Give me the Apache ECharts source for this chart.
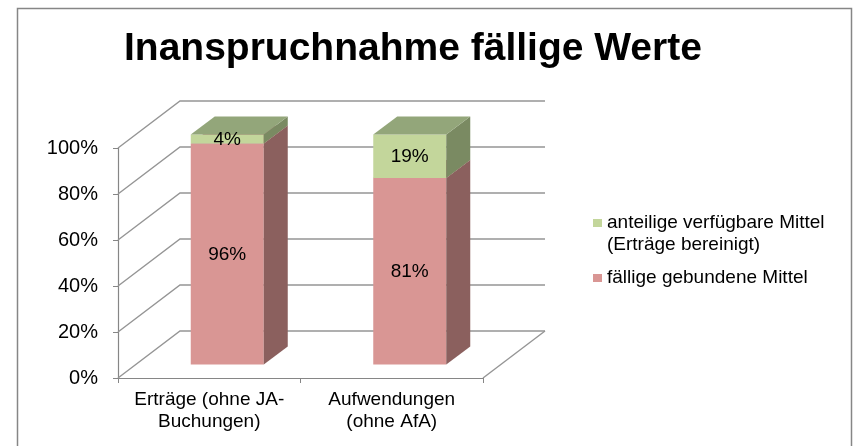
<!DOCTYPE html>
<html>
<head>
<meta charset="utf-8">
<script src="https://cdn.jsdelivr.net/npm/echarts@6/dist/echarts.min.js"></script>
<style>
  html, body { margin: 0; padding: 0; background: #fff; }
  #chart { width: 859px; height: 446px; }
</style>
</head>
<body>
<div id="chart"></div>
<script>
const categories = ['Erträge (ohne JA-\nBuchungen)', 'Aufwendungen\n(ohne AfA)'];
const boundValues = [96, 81];   // fällige gebundene Mittel
const availValues = [4, 19];    // anteilige verfügbare Mittel
const yTicks = [0, 20, 40, 60, 80, 100];
const seriesNames = ['anteilige verfügbare Mittel\n(Erträge bereinigt)', 'fällige gebundene Mittel'];

const FONT = '"Liberation Sans", Arial, sans-serif';
const GRID_COLOR = '#959595';
// 3D depth (pixels) of the walls and of the bars
const WALL_DX = 62, WALL_DY = -47;
const BAR_OX = 18, BAR_OY = -13.6;
const BAR_DX = 24, BAR_DY = -18;

const chart = echarts.init(document.getElementById('chart'));

// gridlines on side wall + back wall, plus floor edge
function renderWalls(params, api) {
  const cs = params.coordSys;
  const v = api.value(1);
  const y = api.coord([0, v])[1];
  const xl = cs.x, xr = cs.x + cs.width;
  const children = [{
    type: 'polyline',
    shape: { points: [[xl, y], [xl + WALL_DX, y + WALL_DY], [xr + WALL_DX, y + WALL_DY]] },
    style: { stroke: GRID_COLOR, lineWidth: 1.4, fill: null }
  }];
  if (v === 0) {
    children.push({
      type: 'line',
      shape: { x1: xr, y1: y, x2: xr + WALL_DX, y2: y + WALL_DY },
      style: { stroke: GRID_COLOR, lineWidth: 1.4 }
    });
  }
  return { type: 'group', children };
}

function barRenderer(front, side, top) {
  return function (params, api) {
    const i = api.value(0), start = api.value(1), end = api.value(2), val = api.value(3);
    const pb = api.coord([i, start]);
    const pt = api.coord([i, end]);
    const bw = api.size([1, 0])[0] * 0.4;
    const x0 = pb[0] - bw / 2 + BAR_OX, x1 = x0 + bw;
    const yb = pb[1] + BAR_OY, yt = pt[1] + BAR_OY;
    return {
      type: 'group',
      children: [
        { type: 'rect', shape: { x: x0, y: yt, width: bw, height: yb - yt }, style: { fill: front } },
        { type: 'polygon', shape: { points: [[x1, yb], [x1 + BAR_DX, yb + BAR_DY], [x1 + BAR_DX, yt + BAR_DY], [x1, yt]] }, style: { fill: side } },
        { type: 'polygon', shape: { points: [[x0, yt], [x1, yt], [x1 + BAR_DX, yt + BAR_DY], [x0 + BAR_DX, yt + BAR_DY]] }, style: { fill: top } },
        { type: 'text', style: { text: val + '%', x: (x0 + x1) / 2, y: (yt + yb) / 2 + 1, align: 'center', verticalAlign: 'middle', fill: '#000', font: '19px ' + FONT } }
      ]
    };
  };
}

const option = {
  animation: false,
  title: {
    text: 'Inanspruchnahme fällige Werte',
    left: 124,
    top: 30,
    padding: 0,
    textStyle: { fontSize: 39, fontWeight: 'bold', color: '#000', fontFamily: FONT, lineHeight: 39 }
  },
  legend: {
    orient: 'vertical',
    left: 593,
    top: 190,
    padding: 0,
    itemWidth: 9,
    itemHeight: 8,
    itemGap: 11,
    icon: 'rect',
    selectedMode: false,
    data: [seriesNames[0], seriesNames[1]],
    // leading empty line keeps the icon level with the first text line
    formatter: name => (name.indexOf('\n') >= 0 ? '\n' + name : name),
    textStyle: { color: '#000', fontSize: 19, lineHeight: 22, fontFamily: FONT }
  },
  grid: { left: 118, right: 376, top: 148, bottom: 68 },
  xAxis: {
    type: 'category',
    data: categories,
    axisLine: { lineStyle: { color: '#868686', width: 1.2 } },
    axisTick: { show: true, length: 5, lineStyle: { color: '#868686' } },
    axisLabel: { color: '#000', fontSize: 19, lineHeight: 22, margin: 11, fontFamily: FONT, interval: 0 },
    splitLine: { show: false }
  },
  yAxis: {
    type: 'value',
    min: 0,
    max: 100,
    interval: 20,
    axisLine: { show: true, lineStyle: { color: '#868686', width: 1.2 } },
    axisTick: { show: true, length: 5, lineStyle: { color: '#868686' } },
    axisLabel: { color: '#000', fontSize: 20, margin: 20, fontFamily: FONT, formatter: '{value}%' },
    splitLine: { show: false }
  },
  graphic: [{
    type: 'rect',
    shape: { x: 17.5, y: 8.5, width: 834, height: 460 },
    style: { fill: null, stroke: '#868686', lineWidth: 1.5 },
    silent: true
  }],
  series: [
    {
      type: 'custom',
      name: 'walls',
      renderItem: renderWalls,
      data: yTicks.map(v => [0, v]),
      encode: { x: 0, y: 1 },
      clip: false,
      silent: true,
      z: 1
    },
    {
      type: 'custom',
      name: seriesNames[1],
      renderItem: barRenderer('#D99694', '#8B605E', '#B07A79'),
      itemStyle: { color: '#D99694' },
      data: boundValues.map((v, i) => [i, 0, v, v]),
      encode: { x: 0, y: [1, 2] },
      clip: false,
      z: 2
    },
    {
      type: 'custom',
      name: seriesNames[0],
      renderItem: barRenderer('#C3D69B', '#7A8A62', '#93A67A'),
      itemStyle: { color: '#C3D69B' },
      data: availValues.map((v, i) => [i, boundValues[i], boundValues[i] + v, v]),
      encode: { x: 0, y: [1, 2] },
      clip: false,
      z: 3
    }
  ]
};

chart.setOption(option);
</script>
</body>
</html>
